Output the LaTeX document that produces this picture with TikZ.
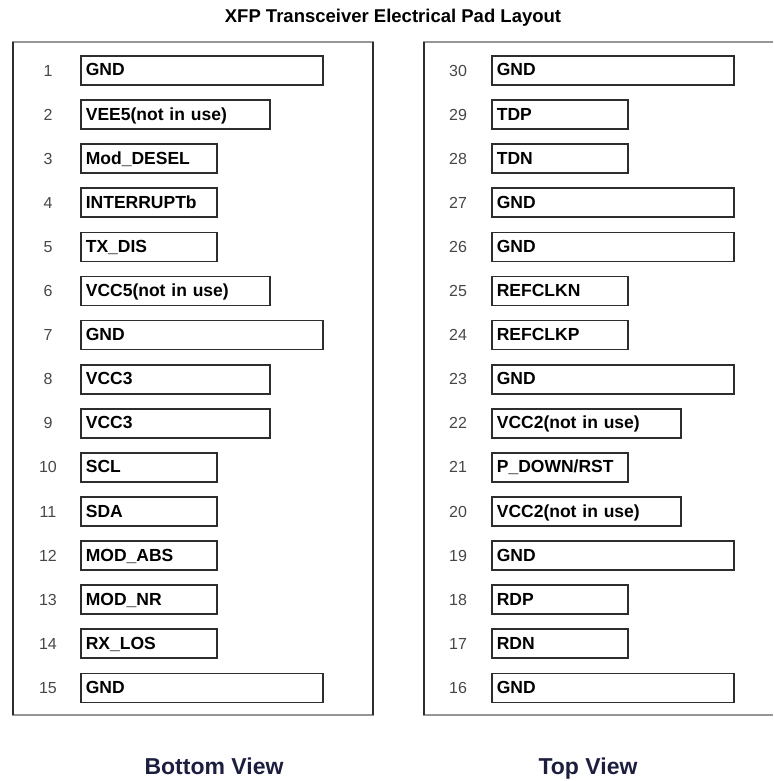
\documentclass[tikz,border=0pt]{standalone}
\usepackage{fontspec}
\setmainfont{Liberation Sans}
\usepackage{tikz}
\usetikzlibrary{positioning}

\definecolor{viewblue}{RGB}{28,30,62}
\definecolor{padline}{RGB}{45,45,45}
\definecolor{framegray}{RGB}{150,150,150}

\begin{document}
\begin{tikzpicture}[
			x=1pt, y=1pt,
			pad/.style={
				draw=padline,
				line width=1.7pt,
				minimum height=29pt,
				inner xsep=5pt,
				inner ysep=0pt,
				text height=13pt,
				text depth=2pt,
				align=left,
				font=\bfseries\fontsize{17.5}{18}\selectfont
			},
			short/.style={pad, text width=126pt},
			mid/.style={pad, text width=179pt},
			long/.style={pad, text width=232pt},
			num/.style={
				inner sep=0pt,
				text=black!72,
				font=\fontsize{16}{18}\selectfont
			},
			view/.style={
				anchor=base,
				text=viewblue,
				font=\bfseries\fontsize{23}{26}\selectfont
			},
			side/.style={draw=padline, line width=1.8pt},
			edge/.style={draw=framegray, line width=2.6pt}
			]
			
			\useasboundingbox (0,0) rectangle (773,-781);
			
			%%%%%%%%%%%%%%%%%%%%%%%%%%%%%%%%%%%%%%%%%%%%%%%%%%%%%%%%%%%%
			% Title
			%%%%%%%%%%%%%%%%%%%%%%%%%%%%%%%%%%%%%%%%%%%%%%%%%%%%%%%%%%%%
			
			\node (title) at (393,-18)
			{\bfseries\fontsize{18.5}{20}\selectfont XFP Transceiver Electrical Pad Layout};
			
			%%%%%%%%%%%%%%%%%%%%%%%%%%%%%%%%%%%%%%%%%%%%%%%%%%%%%%%%%%%%
			% Frames
			%%%%%%%%%%%%%%%%%%%%%%%%%%%%%%%%%%%%%%%%%%%%%%%%%%%%%%%%%%%%
			
			\draw[edge] (12,-42) -- (374,-42);
			\draw[edge] (12,-715) -- (374,-715);
			\draw[side] (13,-42) -- (13,-715);
			\draw[side] (373,-42) -- (373,-715);
			
			\draw[edge] (423,-42) -- (773,-42);
			\draw[edge] (423,-715) -- (773,-715);
			\draw[side] (424,-42) -- (424,-715);
			
			%%%%%%%%%%%%%%%%%%%%%%%%%%%%%%%%%%%%%%%%%%%%%%%%%%%%%%%%%%%%
			% Bottom View pads
			%%%%%%%%%%%%%%%%%%%%%%%%%%%%%%%%%%%%%%%%%%%%%%%%%%%%%%%%%%%%
			
			\node[long, anchor=west] (b1) at (80,-70.5) {GND};
			\node[mid] (b2) [below=13.4pt of b1.south west, anchor=north west] {VEE5(not in use)};
			\node[short] (b3) [below=13.4pt of b2.south west, anchor=north west] {Mod\_DESEL};
			\node[short] (b4) [below=13.4pt of b3.south west, anchor=north west] {INTERRUPTb};
			\node[short] (b5) [below=13.4pt of b4.south west, anchor=north west] {TX\_DIS};
			\node[mid] (b6) [below=13.4pt of b5.south west, anchor=north west] {VCC5(not in use)};
			\node[long] (b7) [below=13.4pt of b6.south west, anchor=north west] {GND};
			\node[mid] (b8) [below=13.4pt of b7.south west, anchor=north west] {VCC3};
			\node[mid] (b9) [below=13.4pt of b8.south west, anchor=north west] {VCC3};
			\node[short] (b10) [below=13.4pt of b9.south west, anchor=north west] {SCL};
			\node[short] (b11) [below=13.4pt of b10.south west, anchor=north west] {SDA};
			\node[short] (b12) [below=13.4pt of b11.south west, anchor=north west] {MOD\_ABS};
			\node[short] (b13) [below=13.4pt of b12.south west, anchor=north west] {MOD\_NR};
			\node[short] (b14) [below=13.4pt of b13.south west, anchor=north west] {RX\_LOS};
			\node[long] (b15) [below=13.4pt of b14.south west, anchor=north west] {GND};
			
			% pad numbers
			
			\node[num] (n1) [left=32pt of b1.west, anchor=center] {1};
			\node[num] (n2) [left=32pt of b2.west, anchor=center] {2};
			\node[num] (n3) [left=32pt of b3.west, anchor=center] {3};
			\node[num] (n4) [left=32pt of b4.west, anchor=center] {4};
			\node[num] (n5) [left=32pt of b5.west, anchor=center] {5};
			\node[num] (n6) [left=32pt of b6.west, anchor=center] {6};
			\node[num] (n7) [left=32pt of b7.west, anchor=center] {7};
			\node[num] (n8) [left=32pt of b8.west, anchor=center] {8};
			\node[num] (n9) [left=32pt of b9.west, anchor=center] {9};
			\node[num] (n10) [left=32pt of b10.west, anchor=center] {10};
			\node[num] (n11) [left=32pt of b11.west, anchor=center] {11};
			\node[num] (n12) [left=32pt of b12.west, anchor=center] {12};
			\node[num] (n13) [left=32pt of b13.west, anchor=center] {13};
			\node[num] (n14) [left=32pt of b14.west, anchor=center] {14};
			\node[num] (n15) [left=32pt of b15.west, anchor=center] {15};
			
			%%%%%%%%%%%%%%%%%%%%%%%%%%%%%%%%%%%%%%%%%%%%%%%%%%%%%%%%%%%%
			% Top View pads
			%%%%%%%%%%%%%%%%%%%%%%%%%%%%%%%%%%%%%%%%%%%%%%%%%%%%%%%%%%%%
			
			\node[long, anchor=west] (b30) at (491,-70.5) {GND};
			\node[short] (b29) [below=13.4pt of b30.south west, anchor=north west] {TDP};
			\node[short] (b28) [below=13.4pt of b29.south west, anchor=north west] {TDN};
			\node[long] (b27) [below=13.4pt of b28.south west, anchor=north west] {GND};
			\node[long] (b26) [below=13.4pt of b27.south west, anchor=north west] {GND};
			\node[short] (b25) [below=13.4pt of b26.south west, anchor=north west] {REFCLKN};
			\node[short] (b24) [below=13.4pt of b25.south west, anchor=north west] {REFCLKP};
			\node[long] (b23) [below=13.4pt of b24.south west, anchor=north west] {GND};
			\node[mid] (b22) [below=13.4pt of b23.south west, anchor=north west] {VCC2(not in use)};
			\node[short] (b21) [below=13.4pt of b22.south west, anchor=north west] {P\_DOWN/RST};
			\node[mid] (b20) [below=13.4pt of b21.south west, anchor=north west] {VCC2(not in use)};
			\node[long] (b19) [below=13.4pt of b20.south west, anchor=north west] {GND};
			\node[short] (b18) [below=13.4pt of b19.south west, anchor=north west] {RDP};
			\node[short] (b17) [below=13.4pt of b18.south west, anchor=north west] {RDN};
			\node[long] (b16) [below=13.4pt of b17.south west, anchor=north west] {GND};
			
			% pad numbers
			
			\node[num] (n30) [left=33pt of b30.west, anchor=center] {30};
			\node[num] (n29) [left=33pt of b29.west, anchor=center] {29};
			\node[num] (n28) [left=33pt of b28.west, anchor=center] {28};
			\node[num] (n27) [left=33pt of b27.west, anchor=center] {27};
			\node[num] (n26) [left=33pt of b26.west, anchor=center] {26};
			\node[num] (n25) [left=33pt of b25.west, anchor=center] {25};
			\node[num] (n24) [left=33pt of b24.west, anchor=center] {24};
			\node[num] (n23) [left=33pt of b23.west, anchor=center] {23};
			\node[num] (n22) [left=33pt of b22.west, anchor=center] {22};
			\node[num] (n21) [left=33pt of b21.west, anchor=center] {21};
			\node[num] (n20) [left=33pt of b20.west, anchor=center] {20};
			\node[num] (n19) [left=33pt of b19.west, anchor=center] {19};
			\node[num] (n18) [left=33pt of b18.west, anchor=center] {18};
			\node[num] (n17) [left=33pt of b17.west, anchor=center] {17};
			\node[num] (n16) [left=33pt of b16.west, anchor=center] {16};
			
			%%%%%%%%%%%%%%%%%%%%%%%%%%%%%%%%%%%%%%%%%%%%%%%%%%%%%%%%%%%%
			% View captions
			%%%%%%%%%%%%%%%%%%%%%%%%%%%%%%%%%%%%%%%%%%%%%%%%%%%%%%%%%%%%
			
			\node[view] (bottomview) at (214,-774) {Bottom View};
			
			\node[view] (topview) at (588,-774) {Top View};
			
			%%%%%%%%%%%%%%%%%%%%%%%%%%%%%%%%%%%%%%%%%%%%%%%%%%%%%%%%%%%%
			
		\end{tikzpicture}
\end{document}
